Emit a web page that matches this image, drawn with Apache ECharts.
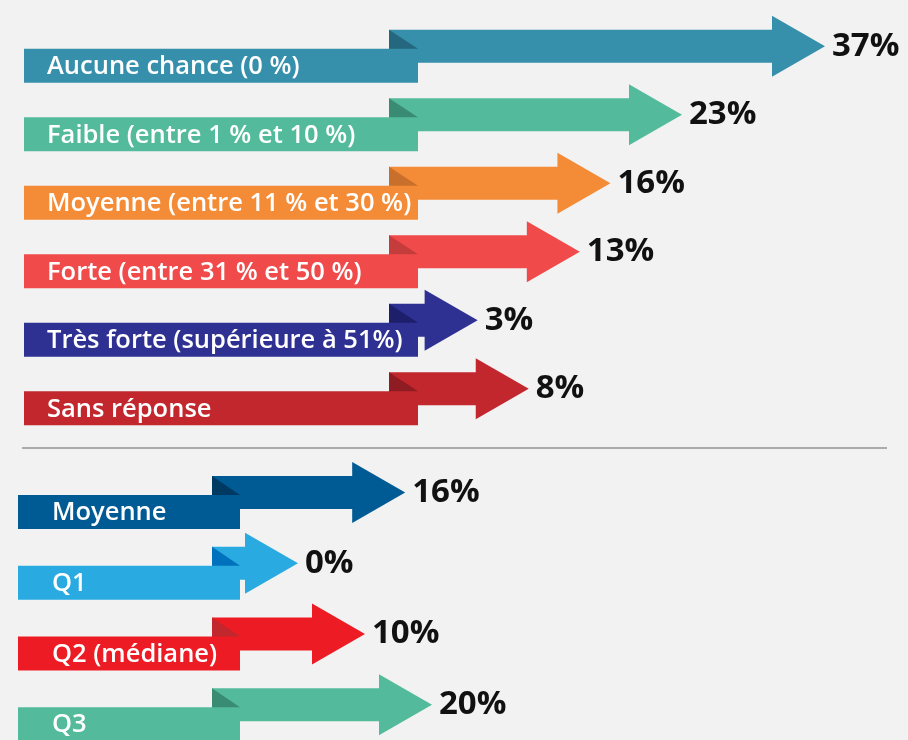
<!DOCTYPE html>
<html>
<head>
<meta charset="utf-8">
<script src="https://cdn.jsdelivr.net/npm/echarts@6/dist/echarts.min.js"></script>
<style>
html, body { margin: 0; padding: 0; background: #f2f2f2; }
#chart { width: 908px; height: 740px; }
</style>
</head>
<body>
<div id="chart"></div>
<script>
// partie haute : chances estimées
var chanceLabels = ['Aucune chance (0 %)', 'Faible (entre 1 % et 10 %)', 'Moyenne (entre 11 % et 30 %)',
  'Forte (entre 31 % et 50 %)', 'Très forte (supérieure à 51%)', 'Sans réponse'];
var chanceValues = [37, 23, 16, 13, 3, 8];
var chanceColors = ['#368fab', '#53bb9b', '#f48c37', '#f04b4a', '#2e3192', '#c1272d'];
var chanceFolds = ['#25677e', '#3a8b73', '#c96f2c', '#c53c3c', '#1d1f6b', '#8e1c22'];

// partie basse : statistiques
var statLabels = ['Moyenne', 'Q1', 'Q2 (médiane)', 'Q3'];
var statValues = [16, 0, 10, 20];
var statColors = ['#005b94', '#29abe2', '#ed1c24', '#53bb9b'];
var statFolds = ['#003a63', '#0071bc', '#c1272d', '#3a8b73'];

var myChart = echarts.init(document.getElementById('chart'));

// dessine une fleche + le bandeau du libelle
function arrowItem(labels, colors, folds, box) {
  return function (params, api) {
    var i = api.value(1);
    var tip = api.coord([api.value(0), i]);
    var x = tip[0], cy = tip[1];
    var headStart = x - 53;
    var bodyTop = cy - 16.5;
    var boxTop = cy + 2.5;
    return {
      type: 'group',
      children: [
        { type: 'rect', shape: { x: box.left, y: boxTop, width: box.right - box.left, height: 34 }, style: { fill: colors[i] } },
        { type: 'rect', shape: { x: box.bodyStart, y: bodyTop, width: headStart - box.bodyStart + 1, height: 33 }, style: { fill: colors[i] } },
        { type: 'polygon', shape: { points: [[headStart, cy - 30.5], [x, cy], [headStart, cy + 30.5]] }, style: { fill: colors[i] } },
        { type: 'polygon', shape: { points: [[box.bodyStart, bodyTop], [box.right, boxTop], [box.bodyStart, boxTop]] }, style: { fill: folds[i] } },
        { type: 'text', x: box.textX, y: boxTop + 18, style: { text: labels[i], fill: '#fff', font: '600 25.5px "Open Sans"', verticalAlign: 'middle' } },
        { type: 'text', x: x + 7, y: cy, style: { text: api.value(0) + '%', fill: '#111', font: 'bold 33px "Open Sans"', verticalAlign: 'middle' } }
      ]
    };
  };
}

var option = {
  backgroundColor: '#f2f2f2',
  animation: false,
  grid: [
    { left: 447, width: 378, top: 12, height: 411 },
    { left: 298, width: 134, top: 457, height: 292 }
  ],
  xAxis: [
    { type: 'value', gridIndex: 0, min: 0, max: 37, show: false },
    { type: 'value', gridIndex: 1, min: 0, max: 20, show: false }
  ],
  yAxis: [
    { type: 'category', gridIndex: 0, data: chanceLabels, inverse: true, show: false },
    { type: 'category', gridIndex: 1, data: statLabels, inverse: true, show: false }
  ],
  graphic: [
    { type: 'line', shape: { x1: 22, y1: 448, x2: 887, y2: 448 }, style: { stroke: '#ababab', lineWidth: 2 } }
  ],
  series: [
    {
      type: 'custom',
      xAxisIndex: 0, yAxisIndex: 0,
      renderItem: arrowItem(chanceLabels, chanceColors, chanceFolds, { left: 24, right: 418, bodyStart: 389, textX: 47 }),
      data: chanceValues.map(function (v, i) { return [v, i]; })
    },
    {
      type: 'custom',
      xAxisIndex: 1, yAxisIndex: 1,
      renderItem: arrowItem(statLabels, statColors, statFolds, { left: 18, right: 240, bodyStart: 212, textX: 52 }),
      data: statValues.map(function (v, i) { return [v, i]; })
    }
  ]
};

myChart.setOption(option);
</script>
</body>
</html>
